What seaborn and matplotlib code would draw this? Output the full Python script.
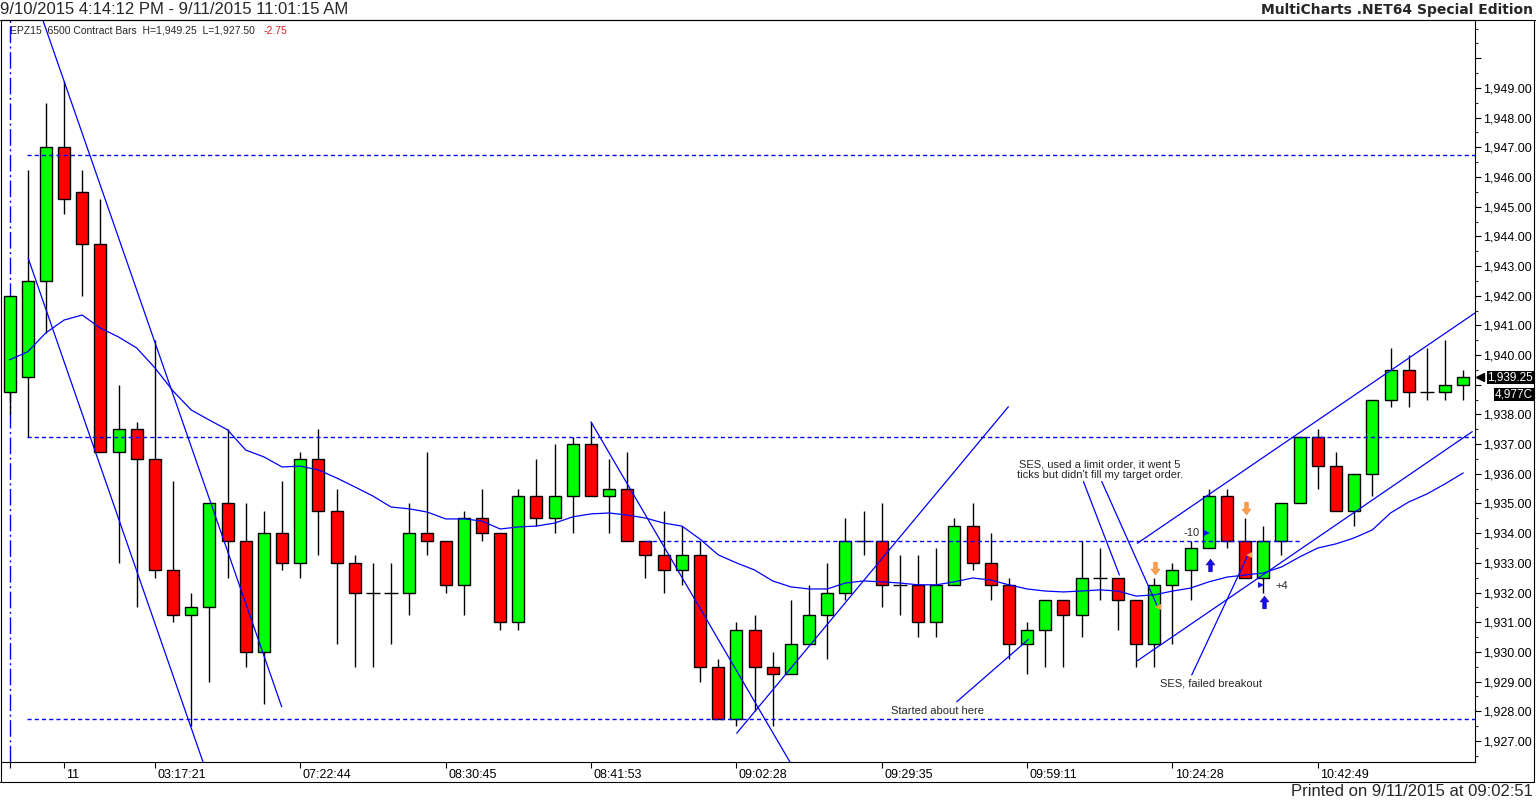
import matplotlib
matplotlib.use("Agg")
import matplotlib.pyplot as plt
import matplotlib.transforms as mtransforms
from matplotlib.lines import Line2D
from matplotlib.ticker import MultipleLocator
import seaborn as sns
import numpy as np

# =====================
# DATA
# =====================
opens = [1938.75, 1939.25, 1942.5, 1947.0, 1945.5, 1943.75, 1936.75, 1937.5, 1936.5, 1932.75,
         1931.25, 1931.5, 1935.0, 1933.75, 1930.0, 1934.0, 1933.0, 1936.5, 1934.75, 1933.0,
         1932.0, 1932.0, 1932.0, 1934.0, 1933.75, 1932.25, 1934.5, 1934.0, 1931.0, 1935.25,
         1934.5, 1935.25, 1937.0, 1935.25, 1935.5, 1933.75, 1933.25, 1932.75, 1933.25, 1929.5,
         1927.75, 1930.75, 1929.5, 1929.25, 1930.25, 1931.25, 1932.0, 1933.75, 1933.75, 1932.25,
         1932.25, 1931.0, 1932.25, 1934.25, 1933.0, 1932.25, 1930.25, 1930.75, 1931.75, 1931.25,
         1932.5, 1932.5, 1931.75, 1930.25, 1932.25, 1932.75, 1933.5, 1935.25, 1933.75, 1932.5,
         1933.75, 1935.0, 1937.25, 1936.25, 1934.75, 1936.0, 1938.5, 1939.5, 1938.75, 1938.75,
         1939.0]
highs = [1942.0, 1946.25, 1948.5, 1949.25, 1946.25, 1945.25, 1939.0, 1937.75, 1940.5, 1935.75,
         1932.0, 1935.0, 1937.5, 1935.0, 1934.75, 1935.75, 1936.75, 1937.5, 1935.5, 1933.25,
         1933.0, 1933.0, 1935.0, 1936.75, 1933.75, 1934.75, 1935.5, 1934.0, 1935.5, 1936.5,
         1937.0, 1937.25, 1937.75, 1936.5, 1936.75, 1933.75, 1934.75, 1934.25, 1933.75, 1929.75,
         1931.0, 1931.25, 1930.0, 1931.75, 1932.25, 1933.0, 1934.5, 1934.75, 1935.0, 1933.25,
         1933.25, 1933.5, 1934.5, 1935.0, 1934.0, 1932.5, 1931.0, 1931.75, 1931.75, 1933.75,
         1933.5, 1932.5, 1931.75, 1932.5, 1933.0, 1933.75, 1935.5, 1935.5, 1934.5, 1934.25,
         1935.0, 1937.25, 1937.5, 1936.75, 1936.0, 1938.5, 1940.25, 1940.0, 1940.25, 1940.5,
         1939.5]
lows = [1938.0, 1937.25, 1940.75, 1944.75, 1942.0, 1936.75, 1933.0, 1931.5, 1932.5, 1931.0,
        1927.5, 1929.0, 1932.5, 1929.5, 1928.25, 1932.75, 1932.5, 1933.25, 1930.25, 1929.5,
        1929.5, 1930.25, 1931.25, 1933.25, 1932.0, 1931.25, 1933.75, 1930.75, 1930.75, 1934.25,
        1934.0, 1934.0, 1935.25, 1934.0, 1933.75, 1932.5, 1932.0, 1932.25, 1929.0, 1927.75,
        1927.5, 1928.0, 1927.5, 1929.25, 1930.25, 1929.75, 1931.75, 1933.25, 1931.5, 1931.25,
        1930.5, 1930.5, 1932.25, 1932.75, 1931.75, 1929.75, 1929.25, 1929.5, 1929.5, 1930.5,
        1931.75, 1930.75, 1929.5, 1929.5, 1930.25, 1931.75, 1933.5, 1933.5, 1932.5, 1932.0,
        1933.25, 1935.0, 1935.5, 1934.75, 1934.25, 1935.25, 1938.25, 1938.25, 1938.5, 1938.5,
        1938.5]
closes = [1942.0, 1942.5, 1947.0, 1945.25, 1943.75, 1936.75, 1937.5, 1936.5, 1932.75, 1931.25,
          1931.5, 1935.0, 1933.75, 1930.0, 1934.0, 1933.0, 1936.5, 1934.75, 1933.0, 1932.0,
          1932.0, 1932.0, 1934.0, 1933.75, 1932.25, 1934.5, 1934.0, 1931.0, 1935.25, 1934.5,
          1935.25, 1937.0, 1935.25, 1935.5, 1933.75, 1933.25, 1932.75, 1933.25, 1929.5, 1927.75,
          1930.75, 1929.5, 1929.25, 1930.25, 1931.25, 1932.0, 1933.75, 1933.75, 1932.25, 1932.25,
          1931.0, 1932.25, 1934.25, 1933.0, 1932.25, 1930.25, 1930.75, 1931.75, 1931.25, 1932.5,
          1932.5, 1931.75, 1930.25, 1932.25, 1932.75, 1933.5, 1935.25, 1933.75, 1932.5, 1933.75,
          1935.0, 1937.25, 1936.25, 1934.75, 1936.0, 1938.5, 1939.5, 1938.75, 1938.75, 1939.0,
          1939.25]

# moving average line
ma = [1939.84, 1940.11, 1940.75, 1941.18, 1941.35, 1940.91, 1940.61, 1940.24, 1939.57, 1938.79,
      1938.15, 1937.81, 1937.48, 1936.80, 1936.57, 1936.23, 1936.26, 1936.13, 1935.86, 1935.56,
      1935.25, 1934.88, 1934.82, 1934.71, 1934.48, 1934.48, 1934.41, 1934.14, 1934.21, 1934.24,
      1934.34, 1934.55, 1934.65, 1934.68, 1934.61, 1934.51, 1934.34, 1934.24, 1933.80, 1933.27,
      1933.00, 1932.76, 1932.39, 1932.19, 1932.12, 1932.12, 1932.32, 1932.39, 1932.36, 1932.32,
      1932.26, 1932.26, 1932.36, 1932.49, 1932.42, 1932.26, 1932.12, 1932.05, 1932.02, 1932.05,
      1932.09, 1932.05, 1931.88, 1931.92, 1932.05, 1932.15, 1932.36, 1932.52, 1932.59, 1932.66,
      1932.86, 1933.20, 1933.50, 1933.64, 1933.84, 1934.11, 1934.68, 1935.05, 1935.32, 1935.66,
      1936.03]

xtick_bars = [0, 3, 8, 16, 24, 32, 40, 48, 56, 64, 72]
xtick_labels = ["", "11", "03:17:21", "07:22:44", "08:30:45", "08:41:53",
                "09:02:28", "09:29:35", "09:59:11", "10:24:28", "10:42:49"]

# horizontal levels (dashed)
level_prices = [1946.75, 1937.25, 1933.75, 1927.75]
level_from = [0.95, 0.95, 35.0, 0.95]
level_to = [80.7, 80.7, 71.1, 80.7]

# drawn trend lines: start (bar, price) -> end (bar, price)
trend_x0 = [1.77, 1.03, 32.0, 40.02, 52.13, 62.07, 62.07, 59.10, 60.11, 65.06]
trend_y0 = [1951.4, 1943.26, 1937.75, 1927.26, 1928.32, 1933.66, 1929.70, 1935.74, 1935.74, 1929.22]
trend_x1 = [14.98, 10.65, 42.95, 54.97, 56.07, 80.65, 80.50, 61.08, 63.14, 68.18]
trend_y1 = [1928.15, 1926.29, 1926.29, 1938.26, 1930.42, 1941.42, 1937.42, 1932.59, 1931.58, 1933.30]

# notes on the chart
note_texts = ["Started about here",
              "SES, used a limit order, it went 5\nticks but didn't fill my target order.",
              "SES, failed breakout", "-10", "+4"]
note_x = [51.05, 60.02, 66.1, 65.03, 70.03]
note_y = [1928.01, 1936.15, 1928.94, 1934.02, 1932.22]

# trade markers
sell_x = [63.05, 68.03]
sell_y = [1932.82, 1934.84]
buy_x = [66.07, 69.04]
buy_y = [1932.93, 1931.69]
sell_fill_x = [63.23, 68.23]
sell_fill_y = [1931.5, 1933.25]
buy_fill_x = [65.89, 68.86]
buy_fill_y = [1934.0, 1932.25]

last_price = 1939.25
volume_label = "4,977C"
volume_y = 1938.66

# =====================
# PLOT
# =====================
sns.set_style("white")
plt.rcParams['font.family'] = ['Liberation Sans', 'DejaVu Sans']

W, H = 1536, 801
fig = plt.figure(figsize=(W / 100, H / 100), dpi=100)
ax = fig.add_axes([1 / W, 39 / H, 1474 / W, 742 / H])

o, h, l, c = map(np.array, (opens, highs, lows, closes))
bars = np.arange(len(o))
up = c > o
dn = c < o
flat = c == o

BLUE = "#0000FF"
ax.vlines(bars, l, h, color="black", lw=1.0, zorder=2)
ax.bar(bars[up], (c - o)[up], bottom=o[up], width=0.66, color="#00FF00",
       edgecolor="black", lw=1.0, zorder=3)
ax.bar(bars[dn], (o - c)[dn], bottom=c[dn], width=0.66, color="#FF0000",
       edgecolor="black", lw=1.0, zorder=3)
ax.hlines(o[flat], bars[flat] - 0.38, bars[flat] + 0.38, color="black", lw=1.0, zorder=3)

sns.lineplot(x=bars, y=ma, color=BLUE, lw=0.9, ax=ax, zorder=5)

for p, a, b in zip(level_prices, level_from, level_to):
    ax.plot([a, b], [p, p], color=BLUE, lw=1.0, ls=(0, (3, 2.2)), zorder=4)

ax.axvline(0, color=BLUE, lw=1.0, ls=(0, (12, 2.5, 1.5, 2.5)), zorder=1)

for x0, y0, x1, y1 in zip(trend_x0, trend_y0, trend_x1, trend_y1):
    ax.plot([x0, x1], [y0, y1], color=BLUE, lw=0.9, zorder=5)

for t, x, y in zip(note_texts, note_x, note_y):
    ax.text(x, y, t, fontsize=8, ha="center", va="center", linespacing=1.05, zorder=6)

arrow_up = [(0, 1), (-0.7, 0.1), (-0.28, 0.1), (-0.28, -1), (0.28, -1), (0.28, 0.1), (0.7, 0.1), (0, 1)]
arrow_dn = [(x, -y) for x, y in arrow_up]
ax.plot(sell_x, sell_y, ls="none", marker=arrow_dn, ms=9, color="#FFA050", mec="#F08830", mew=0.5, zorder=6)
ax.plot(buy_x, buy_y, ls="none", marker=arrow_up, ms=9, color="#1010F0", mec="#300090", mew=0.5, zorder=6)
ax.plot(sell_fill_x, sell_fill_y, ls="none", marker="<", ms=5, color="#FFA050", mew=0, zorder=6)
ax.plot(buy_fill_x, buy_fill_y, ls="none", marker=">", ms=5, color="#1010F0", mew=0, zorder=6)

ax.set_xlim(-0.468, 80.65)
ax.set_ylim(1926.29, 1951.29)
ax.set_xlabel("")
ax.set_ylabel("")

# price axis on the right (1939 label sits under the price tags)
ax.yaxis.tick_right()
yt = np.arange(1927, 1951)
ax.set_yticks(yt)
ax.set_yticklabels([f"{v:,.2f}" if v not in (1939, 1950) else "" for v in yt])
ax.yaxis.set_minor_locator(MultipleLocator(0.5))
ax.tick_params(axis="y", which="major", direction="out", length=4, width=0.8,
               pad=1.5, labelsize=9, colors="black", right=True, left=False)
ax.tick_params(axis="y", which="minor", direction="out", length=2, width=0.8,
               right=True, left=False)

ax.set_xticks(xtick_bars)
ax.set_xticklabels(xtick_labels)
ax.tick_params(axis="x", direction="out", length=4, width=0.8, pad=1,
               labelsize=9, colors="black", bottom=True)
shift = mtransforms.ScaledTranslation(2.5 / 100, 0, fig.dpi_scale_trans)
for lbl in ax.get_xticklabels():
    lbl.set_ha("left")
    lbl.set_transform(lbl.get_transform() + shift)

for s in ax.spines.values():
    s.set_visible(True)
    s.set_color("black")
    s.set_linewidth(0.8)

# last price / volume tags
blend = mtransforms.blended_transform_factory(ax.transAxes, ax.transData)
ax.plot([1.0035], [last_price], marker="<", ms=6, color="black", transform=blend, clip_on=False)
ax.text(1532 / 1474, last_price, f"{last_price:,.2f}", transform=blend, ha="right", va="center",
        fontsize=8.5, color="white", bbox=dict(boxstyle="square,pad=0.05", fc="black", ec="none"))
ax.text(1532 / 1474, volume_y, volume_label, transform=blend, ha="right", va="center",
        fontsize=8.5, color="white", bbox=dict(boxstyle="square,pad=0.05", fc="black", ec="none"))

# header / footer
fig.text(0.0, 1 - 10 / H, "9/10/2015 4:14:12 PM - 9/11/2015 11:01:15 AM",
         fontsize=12, ha="left", va="center")
fig.text(1533 / W, 1 - 10 / H, "MultiCharts .NET64 Special Edition", family="DejaVu Sans",
         fontsize=10, fontweight="bold", ha="right", va="center")
fig.text(1533 / W, 1 - 792 / H, "Printed on 9/11/2015 at 09:02:51",
         fontsize=12, ha="right", va="center")
fig.text(10 / W, 1 - 30.7 / H,
         f"EPZ15  6500 Contract Bars  H={max(highs):,.2f}  L={min(lows):,.2f}",
         fontsize=7.5, ha="left", va="center")
fig.text(264 / W, 1 - 30.7 / H, "-2.75", fontsize=7.5, color="#E02020", ha="left", va="center")

# outer frame
for xs, ys in [([0, 1536], [20, 20]), ([0, 1534], [782, 782]),
               ([1534, 1534], [20, 782]), ([1, 1], [762, 782])]:
    fig.add_artist(Line2D([x / W for x in xs], [1 - y / H for y in ys],
                          transform=fig.transFigure, color="black", lw=0.8))

fig.savefig("out.png", dpi=100)
